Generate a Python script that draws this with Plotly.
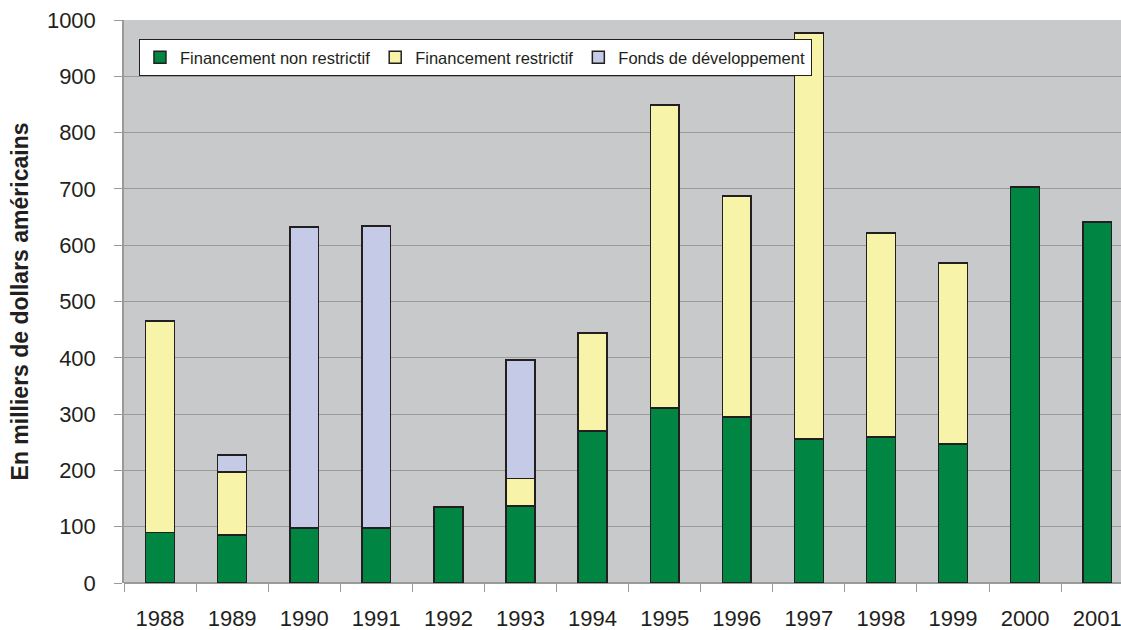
import plotly.graph_objects as go

years = ["1988", "1989", "1990", "1991", "1992", "1993", "1994",
         "1995", "1996", "1997", "1998", "1999", "2000", "2001"]
non_restrictif = [90, 85, 98, 98, 135, 137, 270, 311, 295, 256, 259, 247, 703, 641]
restrictif = [375, 112, 0, 0, 0, 49, 174, 538, 392, 721, 363, 321, 0, 0]
developpement = [0, 30, 534, 536, 0, 210, 0, 0, 0, 0, 0, 0, 0, 0]

names = ["Financement non restrictif", "Financement restrictif", "Fonds de développement"]
colors = ["#008542", "#F7F4AA", "#C5CAE6"]

fig = go.Figure()
for name, vals, col in zip(names, [non_restrictif, restrictif, developpement], colors):
    fig.add_trace(go.Bar(
        x=years, y=vals, name=name,
        marker=dict(color=col, line=dict(color="#231F20", width=1.5)),
        width=0.4,
    ))

fig.update_layout(
    barmode="stack",
    width=1121, height=630,
    margin=dict(l=124, r=0, t=20, b=47, autoexpand=False),
    paper_bgcolor="white",
    plot_bgcolor="#C8C9CB",
    font=dict(family="Liberation Sans, Arial, sans-serif", color="#231F20"),
    showlegend=True,
    legend=dict(
        orientation="h", x=0.015, y=0.966, xanchor="left", yanchor="top",
        bgcolor="white", bordercolor="#231F20", borderwidth=1,
        font=dict(size=16.5), traceorder="normal",
        itemwidth=30, entrywidth=0,
    ),
)
fig.update_xaxes(
    type="category", range=[-0.5, 13.33], automargin=False,
    tickfont=dict(size=22), ticks="outside", tickson="boundaries",
    ticklen=8, tickcolor="#9A9A9A", showline=False, showgrid=False,
    ticklabelstandoff=20, ticklabeloverflow="allow",
)
fig.update_yaxes(
    range=[0, 1000], dtick=100, tickfont=dict(size=22), automargin=False,
    ticks="outside", ticklen=8, tickcolor="#9A9A9A",
    showline=True, linecolor="#9A9A9A", linewidth=1.5,
    gridcolor="#9A9A9A", gridwidth=1.2, zeroline=True, zerolinecolor="#9A9A9A",
    ticklabelstandoff=14, ticklabeloverflow="allow",
    title=dict(text="<b>En milliers de dollars américains</b>", font=dict(size=23), standoff=12),
)

fig.write_html(
    "out.html",
    config={"displayModeBar": False},
    post_script="document.body.style.margin='0';document.body.style.overflow='hidden';",
)
